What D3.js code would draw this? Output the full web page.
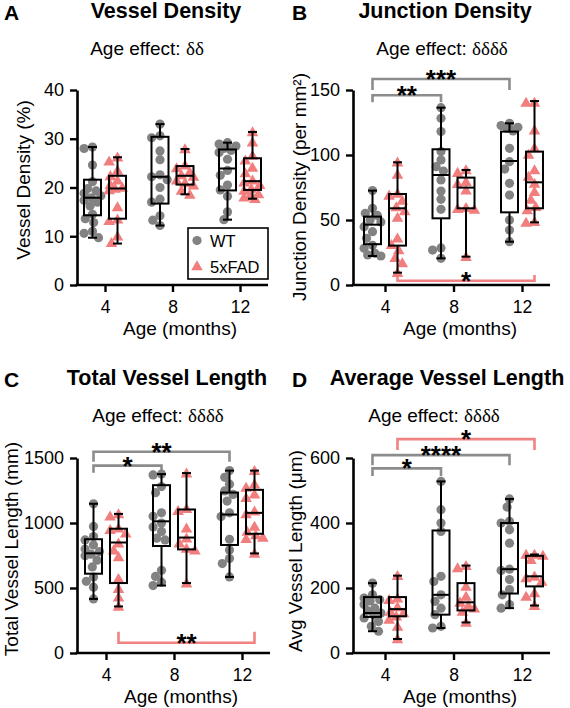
<!DOCTYPE html>
<html><head><meta charset="utf-8">
<script src="https://cdn.jsdelivr.net/npm/d3@7"></script>
<style>body{margin:0;background:#fff}svg{display:block}</style>
</head><body>
<svg id="c" width="570" height="708"></svg>
<script>
// ---------- categories ----------
const ages = ["4", "8", "12"];
const genotypes = ["WT", "5xFAD"];

// ---------- Panel A: Vessel Density (%) ----------
const vdTicks = [0, 10, 20, 30, 40];
const vdWT = [
  [28.3, 28.0, 24.6, 21.2, 19.8, 19.3, 18.8, 18.3, 17.9, 17.4, 17.0, 16.2, 14.5, 13.6, 12.8, 11.0, 10.6, 9.7],
  [33.0, 30.6, 30.2, 27.5, 25.7, 22.6, 22.2, 21.6, 20.0, 17.6, 17.0, 14.2, 13.3, 12.2],
  [29.2, 28.9, 28.5, 28.0, 27.6, 27.2, 25.8, 23.5, 22.5, 20.5, 19.5, 18.2, 15.0, 13.4]
];
const vdFAD = [
  [26.2, 25.4, 23.5, 22.4, 21.5, 20.6, 20.0, 19.8, 19.5, 16.0, 13.5, 13.2, 10.0, 8.7],
  [27.9, 24.6, 24.0, 23.2, 22.6, 22.3, 21.5, 21.0, 20.5, 19.4, 18.6],
  [31.4, 29.3, 26.6, 25.6, 24.1, 23.0, 21.5, 21.1, 20.6, 19.8, 19.4, 18.7, 18.3, 18.0, 17.7]
];
// [min, q1, median, q3, max]
const vdWTBox = [[9.7, 14.3, 17.9, 21.6, 28.3], [12.2, 16.7, 22.2, 30.4, 33.0], [13.4, 19.4, 23.9, 27.8, 29.2]];
const vdFADBox = [[8.5, 13.6, 19.8, 22.4, 26.2], [18.6, 20.6, 22.4, 24.4, 27.9], [17.7, 19.5, 21.3, 26.0, 31.4]];
const vdBrackets = [];

// ---------- Panel B: Junction Density (per mm2) ----------
const jdTicks = [0, 50, 100, 150];
const jdWT = [
  [72.6, 59.0, 55.1, 53.5, 50.0, 48.5, 44.9, 41.0, 35.9, 30.5, 28.2, 24.4, 23.1, 22.3],
  [136.4, 128.2, 118.0, 102.6, 96.2, 91.0, 87.7, 80.8, 72.3, 65.9, 58.2, 28.5, 26.9, 20.5],
  [124.4, 122.6, 121.3, 120.5, 118.5, 105.1, 94.9, 89.2, 78.2, 69.2, 50.0, 42.3, 33.3]
];
const jdFAD = [
  [94.4, 85.0, 70.5, 69.0, 65.0, 60.0, 57.0, 52.0, 36.0, 31.0, 27.0, 21.0, 17.0, 9.5],
  [88.5, 86.5, 79.5, 78.0, 73.0, 59.5, 58.8, 58.2, 21.8],
  [140.5, 140.5, 119.2, 105.5, 100.5, 88.5, 83.5, 78.2, 71.8, 65.9, 60.3, 57.7, 48.7, 48.2]
];
const jdWTBox = [[22.3, 31.4, 46.4, 52.6, 72.6], [20.5, 51.3, 84.6, 104.4, 136.4], [33.3, 55.9, 95.4, 118.0, 124.4]];
const jdFADBox = [[9.5, 30.3, 59.0, 70.0, 94.4], [21.8, 59.0, 74.9, 82.6, 88.5], [48.2, 59.0, 79.0, 102.6, 141.5]];
// [from age, from genotype, to age, to genotype, line value, leg-end value, label, colour key]
const jdBrackets = [
  ["4", "WT", "8", "WT", 146, 140.5, "**", "gray"],
  ["4", "WT", "12", "WT", 158.5, 150, "***", "gray"],
  ["4", "5xFAD", "12", "5xFAD", 3.3, 7.7, "*", "red"]
];

// ---------- Panel C: Total Vessel Length (mm) ----------
const tlTicks = [0, 500, 1000, 1500];
const tlWT = [
  [1148, 974, 896, 870, 831, 800, 780, 760, 748, 714, 662, 584, 551, 506, 416],
  [1376, 1370, 1280, 1233, 1078, 1052, 1000, 970, 935, 883, 870, 636, 589, 545, 519],
  [1403, 1351, 1299, 1247, 1220, 1169, 1078, 1050, 875, 792, 727, 688, 585]
];
const tlFAD = [
  [1070, 1052, 961, 948, 922, 844, 792, 740, 571, 494, 429, 358],
  [1384, 1110, 1095, 961, 883, 844, 805, 792, 538],
  [1403, 1299, 1273, 1221, 1195, 1091, 1070, 974, 935, 909, 890, 880, 766]
];
const tlWTBox = [[416, 610, 767, 875, 1148], [519, 823, 1013, 1291, 1376], [585, 831, 1065, 1234, 1403]];
const tlFADBox = [[358, 538, 850, 956, 1070], [538, 797, 888, 1104, 1384], [766, 917, 1078, 1255, 1403]];
const tlBrackets = [
  ["4", "WT", "8", "WT", 1441, 1387, "*", "gray"],
  ["4", "WT", "12", "WT", 1548, 1472, "**", "gray"],
  ["4", "5xFAD", "12", "5xFAD", 79, 164, "**", "red"]
];

// ---------- Panel D: Avg Vessel Length (um) ----------
const alTicks = [0, 200, 400, 600];
const alWT = [
  [215, 179, 169, 164, 160, 149, 138, 130, 123, 118, 108, 97, 82, 67],
  [528, 441, 400, 374, 236, 220, 179, 159, 138, 118, 82, 77],
  [474, 449, 405, 400, 379, 338, 258, 254, 226, 195, 179, 149, 138]
];
const alFAD = [
  [238, 169, 164, 142, 128, 123, 113, 103, 82, 43],
  [269, 262, 205, 174, 156, 146, 138, 128, 94],
  [303, 303, 300, 287, 236, 231, 220, 185, 174, 146]
];
const alWTBox = [[67, 111, 123, 172, 215], [77, 118, 179, 377, 528], [138, 183, 258, 400, 474]];
const alFADBox = [[43, 113, 135, 172, 238], [94, 131, 156, 215, 269], [146, 205, 236, 299, 303]];
const alBrackets = [
  ["4", "WT", "8", "WT", 568, 545, "*", "gray"],
  ["4", "WT", "12", "WT", 609, 578, "****", "gray"],
  ["4", "5xFAD", "12", "5xFAD", 658, 625, "*", "red"]
];

// ---------- styling / layout ----------
const FONT = "'Liberation Sans', Arial, Helvetica, sans-serif";
const SERIF = "'Liberation Serif', 'Times New Roman', serif";
const GRAY = "#828282", RED = "#F27D7D", BGRAY = "#8c8c8c", BRED = "#F28282";
const PH = 195;

const panels = [
  {letter: "A", letterX: 4, title: "Vessel Density", delta: "δδ", yLabel: "Vessel Density (%)", ticks: vdTicks,
   wt: vdWT, fad: vdFAD, wtBox: vdWTBox, fadBox: vdFADBox, brackets: vdBrackets,
   x0: 77, y0: 90, xr: [105, 240], xEnd: 268, titleX: 166, subX: 147, topY: 0, yLabX: 30, yLabY: 180, xLabX: 180, legend: true},
  {letter: "B", letterX: 292, title: "Junction Density", delta: "δδδδ", yLabel: "Junction Density (per mm²)", ticks: jdTicks,
   wt: jdWT, fad: jdFAD, wtBox: jdWTBox, fadBox: jdFADBox, brackets: jdBrackets,
   x0: 353, y0: 90, xr: [385, 522], xEnd: 550, titleX: 445, subX: 442, topY: 0, yLabX: 306, yLabY: 187, xLabX: 460},
  {letter: "C", letterX: 4, title: "Total Vessel Length", delta: "δδδδ", yLabel: "Total Vessel Length (mm)", ticks: tlTicks,
   wt: tlWT, fad: tlFAD, wtBox: tlWTBox, fadBox: tlFADBox, brackets: tlBrackets,
   x0: 77, y0: 458, xr: [106, 242], xEnd: 270, titleX: 167, subX: 158, topY: 367, yLabX: 18, yLabY: 549, xLabX: 181},
  {letter: "D", letterX: 292, title: "Average Vessel Length", delta: "δδδδ", yLabel: "Avg Vessel Length (μm)", ticks: alTicks,
   wt: alWT, fad: alFAD, wtBox: alWTBox, fadBox: alFADBox, brackets: alBrackets,
   x0: 353, y0: 458, xr: [385, 522], xEnd: 550, titleX: 447, subX: 434, topY: 367, yLabX: 302, yLabY: 551, xLabX: 460}
];

const svg = d3.select("#c");

function swarm(vals, y, cx, r, maxOff) {
  const pts = vals.map(v => ({v, y: y(v)})).sort((a, b) => a.y - b.y);
  const placed = [];
  pts.forEach(p => {
    let best = 0, bestScore = -1;
    outer:
    for (let k = 0; k <= 20; k++) {
      for (const s of (k === 0 ? [0] : [-1, 1])) {
        const off = s * k * 1.2;
        if (Math.abs(off) > maxOff) continue;
        const md = placed.reduce((m, q) => Math.min(m, Math.hypot(q.x - (cx + off), q.y - p.y)), Infinity);
        if (md >= 2 * r * 0.9) { best = off; bestScore = Infinity; break outer; }
        if (md > bestScore) { bestScore = md; best = off; }
      }
    }
    p.x = cx + best;
    placed.push(p);
  });
  return placed;
}

panels.forEach(P => {
  const g = svg.append("g");
  const yMax = P.ticks[P.ticks.length - 1];
  const y = d3.scaleLinear().domain([0, yMax]).range([P.y0 + PH, P.y0]);
  const x = d3.scalePoint().domain(ages).range(P.xr);
  const off = {"WT": -12.5, "5xFAD": 12.5};
  const gx = (age, gt) => x(age) + off[gt];
  const yBase = P.y0 + PH;

  // titles
  g.append("text").attr("x", P.letterX).attr("y", P.topY + 20).attr("font-family", FONT).attr("font-weight", "bold")
    .attr("font-size", 21).text(P.letter);
  g.append("text").attr("x", P.titleX).attr("y", P.topY + 18).attr("text-anchor", "middle")
    .attr("font-family", FONT).attr("font-weight", "bold").attr("font-size", 21.5).text(P.title);
  const st = g.append("text").attr("x", P.subX).attr("y", P.topY + 55).attr("text-anchor", "middle")
    .attr("font-family", FONT).attr("font-size", 19);
  st.append("tspan").text("Age effect: ");
  st.append("tspan").attr("font-family", SERIF).text(P.delta);

  // y axis
  const ya = g.append("g").attr("transform", `translate(${P.x0},0)`)
    .call(d3.axisLeft(y).tickValues(P.ticks).tickFormat(d3.format("d")).tickSize(7).tickSizeOuter(0).tickPadding(6));
  ya.select(".domain").attr("stroke", "#000").attr("stroke-width", 2.6);
  ya.selectAll(".tick line").attr("stroke", "#000").attr("stroke-width", 2.4);
  ya.selectAll(".tick text").attr("font-family", FONT).attr("font-size", 18).attr("fill", "#000");

  // x axis
  const xa = g.append("g").attr("transform", `translate(0,${yBase})`)
    .call(d3.axisBottom(x).tickSize(7).tickSizeOuter(0).tickPadding(9));
  xa.select(".domain").remove();
  xa.selectAll(".tick line").attr("stroke", "#000").attr("stroke-width", 2.4);
  xa.selectAll(".tick text").attr("font-family", FONT).attr("font-size", 17.5).attr("fill", "#000");
  g.append("line").attr("x1", P.x0 - 1.3).attr("x2", P.xEnd).attr("y1", yBase).attr("y2", yBase)
    .attr("stroke", "#000").attr("stroke-width", 2.6);

  // axis titles
  g.append("text").attr("x", P.xLabX).attr("y", yBase + 50).attr("text-anchor", "middle")
    .attr("font-family", FONT).attr("font-size", 19).text("Age (months)");
  g.append("text").attr("transform", `translate(${P.yLabX},${P.yLabY}) rotate(-90)`).attr("text-anchor", "middle")
    .attr("font-family", FONT).attr("font-size", 19).text(P.yLabel);

  // brackets
  P.brackets.forEach(b => {
    const x1 = gx(b[0], b[1]), x2 = gx(b[2], b[3]);
    const yl = y(b[4]), ye = y(b[5]);
    const col = b[7] === "red" ? BRED : BGRAY;
    g.append("path").attr("d", `M${x1},${ye}V${yl}H${x2}V${ye}`).attr("fill", "none")
      .attr("stroke", col).attr("stroke-width", 2.6);
    g.append("text").attr("x", (x1 + x2) / 2).attr("y", yl - 6 + 15).attr("text-anchor", "middle")
      .attr("font-family", FONT).attr("font-weight", "bold").attr("font-size", 26).text(b[6]);
  });

  // points
  const groups = [];
  ages.forEach((a, i) => {
    groups.push({age: a, gt: "WT", vals: P.wt[i], box: P.wtBox[i]});
    groups.push({age: a, gt: "5xFAD", vals: P.fad[i], box: P.fadBox[i]});
  });
  const tri = d3.symbol().type(d3.symbolTriangle).size(58);
  groups.forEach(G => {
    const cx = gx(G.age, G.gt);
    const pts = swarm(G.vals, y, cx, 4.6, 9);
    if (G.gt === "WT") {
      g.append("g").selectAll("circle").data(pts).join("circle")
        .attr("cx", d => d.x).attr("cy", d => d.y).attr("r", 4.6).attr("fill", GRAY);
    } else {
      g.append("g").selectAll("path").data(pts).join("path")
        .attr("d", tri).attr("transform", d => `translate(${d.x},${d.y + 1})`).attr("fill", RED);
    }
  });

  // boxes
  groups.forEach(G => {
    const cx = gx(G.age, G.gt), hw = 8.5, cw = 4.5;
    const [mn, q1, md, q3, mx] = G.box;
    const bg = g.append("g").attr("stroke", "#000").attr("stroke-width", 2).attr("fill", "none");
    bg.append("line").attr("x1", cx).attr("x2", cx).attr("y1", y(mx)).attr("y2", y(q3));
    bg.append("line").attr("x1", cx).attr("x2", cx).attr("y1", y(q1)).attr("y2", y(mn));
    bg.append("line").attr("x1", cx - cw).attr("x2", cx + cw).attr("y1", y(mx)).attr("y2", y(mx));
    bg.append("line").attr("x1", cx - cw).attr("x2", cx + cw).attr("y1", y(mn)).attr("y2", y(mn));
    bg.append("rect").attr("x", cx - hw).attr("width", 2 * hw).attr("y", y(q3)).attr("height", y(q1) - y(q3));
    bg.append("line").attr("x1", cx - hw).attr("x2", cx + hw).attr("y1", y(md)).attr("y2", y(md));
  });

  // legend
  if (P.legend) {
    const lg = g.append("g");
    lg.append("rect").attr("x", 188).attr("y", 228).attr("width", 80).attr("height", 51)
      .attr("fill", "#fff").attr("stroke", "#000").attr("stroke-width", 1.6);
    lg.append("circle").attr("cx", 197).attr("cy", 240.5).attr("r", 4.6).attr("fill", GRAY);
    lg.append("path").attr("d", tri).attr("transform", "translate(197,267)").attr("fill", RED);
    lg.append("text").attr("x", 210).attr("y", 247).attr("font-family", FONT).attr("font-size", 16.5).text(genotypes[0]);
    lg.append("text").attr("x", 210).attr("y", 273).attr("font-family", FONT).attr("font-size", 16.5).text(genotypes[1]);
  }
});
</script>
</body></html>
